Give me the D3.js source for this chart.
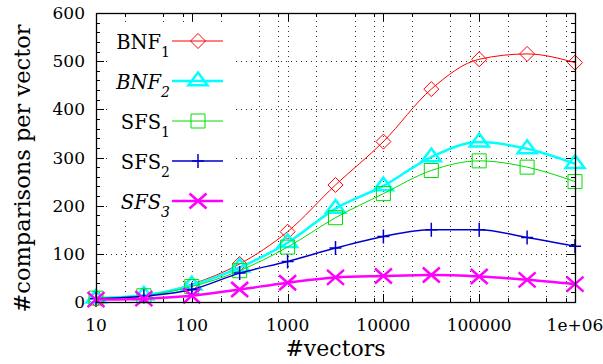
<!DOCTYPE html>
<html>
<head>
<meta charset="utf-8">
<script src="https://cdn.jsdelivr.net/npm/d3@7"></script>
<style>
  body { margin: 0; background: #fff; }
  svg { display: block; }
</style>
</head>
<body>
<div id="chart"></div>
<script>
const vectors = [10, 31.6, 100, 316, 1000, 3162, 10000, 31623, 100000, 316228, 1000000];
const bnf1 = [5, 13, 37, 79, 146, 243, 333, 442, 504, 515, 497];
const bnf2 = [8, 14, 35, 72, 123, 194, 241, 301, 332, 318, 287];
const sfs1 = [8, 13, 32, 65, 114, 175, 225, 273, 293, 280, 250];
const sfs2 = [7, 12, 26, 60, 84, 112, 136, 150, 150, 134, 116];
const sfs3 = [5, 7, 13, 26, 40, 51, 54, 56, 53, 46, 37];
const xTicks = [10, 100, 1000, 10000, 100000, 1000000];
const xTickLabels = ["10", "100", "1000", "10000", "100000", "1e+06"];
const yTicks = [0, 100, 200, 300, 400, 500, 600];

const width = 603, height = 364;
const margin = {top: 13, right: 28, bottom: 62, left: 96};
const font = "DejaVu Serif";

const series = [
  {name: "BNF", sub: "1", italic: false, values: bnf1, color: "#ff0000", lw: 1, marker: "diamond"},
  {name: "BNF", sub: "2", italic: true, values: bnf2, color: "#00ffff", lw: 2.5, marker: "triangle"},
  {name: "SFS", sub: "1", italic: false, values: sfs1, color: "#00dd00", lw: 1, marker: "square"},
  {name: "SFS", sub: "2", italic: false, values: sfs2, color: "#0000cc", lw: 1.5, marker: "plus"},
  {name: "SFS", sub: "3", italic: true, values: sfs3, color: "#ff00ff", lw: 2.5, marker: "cross"}
];

const markerPaths = {
  diamond: "M0,-7.5L7.5,0L0,7.5L-7.5,0Z",
  triangle: "M0,-8.5L9.5,4.3L-9.5,4.3Z",
  square: "M-7,-7H7V7H-7Z",
  plus: "M-6,0H6M0,-7V7",
  cross: "M-8.5,-7.5L8.5,7.5M-8.5,7.5L8.5,-7.5"
};
const markerWidth = {diamond: 1, triangle: 2.5, square: 1, plus: 1.5, cross: 2.5};

const svg = d3.select("#chart").append("svg")
  .attr("width", width)
  .attr("height", height)
  .style("font-family", font);

const x = d3.scaleLog().domain([10, 1e6]).range([margin.left, width - margin.right]);
const y = d3.scaleLinear().domain([0, 600]).range([height - margin.bottom, margin.top]);

const x0 = margin.left, x1 = width - margin.right;
const y0 = height - margin.bottom, y1 = margin.top;

// minor x positions (2, 5, 8 per decade)
const xMinor = [];
xTicks.slice(0, -1).forEach(d => [2, 5, 8].forEach(m => xMinor.push(d * m)));

// dotted grid
const grid = svg.append("g").attr("stroke", "#000").attr("stroke-width", 1)
  .attr("stroke-dasharray", "1,4").attr("opacity", 0.8);
grid.selectAll("line.h")
  .data(yTicks.slice(1, -1))
  .join("line")
    .attr("class", "h")
    .attr("x1", x0).attr("x2", x1)
    .attr("y1", d => Math.round(y(d)) + 0.5).attr("y2", d => Math.round(y(d)) + 0.5);
grid.selectAll("line.v")
  .data(xTicks.slice(1, -1).concat(xMinor))
  .join("line")
    .attr("class", "v")
    .attr("y1", y0).attr("y2", y1)
    .attr("x1", d => Math.round(x(d)) + 0.5).attr("x2", d => Math.round(x(d)) + 0.5);

// ticks on all four sides, pointing inward
const ticks = svg.append("g").attr("stroke", "#000").attr("stroke-width", 1);
xTicks.forEach(d => {
  const px = Math.round(x(d)) + 0.5;
  ticks.append("line").attr("x1", px).attr("x2", px).attr("y1", y0).attr("y2", y0 - 8);
  ticks.append("line").attr("x1", px).attr("x2", px).attr("y1", y1).attr("y2", y1 + 8);
});
xMinor.forEach(d => {
  const px = Math.round(x(d)) + 0.5;
  ticks.append("line").attr("x1", px).attr("x2", px).attr("y1", y0).attr("y2", y0 - 4);
  ticks.append("line").attr("x1", px).attr("x2", px).attr("y1", y1).attr("y2", y1 + 4);
});
yTicks.forEach(d => {
  const py = Math.round(y(d)) + 0.5;
  ticks.append("line").attr("x1", x0).attr("x2", x0 + 8).attr("y1", py).attr("y2", py);
  ticks.append("line").attr("x1", x1).attr("x2", x1 - 8).attr("y1", py).attr("y2", py);
});
d3.range(0, 600, 20).filter(d => d % 100 !== 0).forEach(d => {
  const py = Math.round(y(d)) + 0.5;
  ticks.append("line").attr("x1", x0).attr("x2", x0 + 4).attr("y1", py).attr("y2", py);
  ticks.append("line").attr("x1", x1).attr("x2", x1 - 4).attr("y1", py).attr("y2", py);
});

// tick labels
svg.append("g").selectAll("text")
  .data(xTicks)
  .join("text")
    .attr("x", d => x(d))
    .attr("y", y0 + 29)
    .attr("text-anchor", "middle")
    .style("font-size", "17px")
    .text((d, i) => xTickLabels[i]);
svg.append("g").selectAll("text")
  .data(yTicks)
  .join("text")
    .attr("x", x0 - 11)
    .attr("y", d => y(d) + 6)
    .attr("text-anchor", "end")
    .style("font-size", "17px")
    .text(d => d);

// axis titles
svg.append("text")
  .attr("x", (x0 + x1) / 2)
  .attr("y", 356)
  .attr("text-anchor", "middle")
  .style("font-size", "22px")
  .text("#vectors");
svg.append("text")
  .attr("transform", `translate(30,${(y0 + y1) / 2 + 11}) rotate(-90)`)
  .attr("text-anchor", "middle")
  .style("font-size", "22.5px")
  .text("#comparisons per vector");

// opaque key background
svg.append("rect")
  .attr("x", 110).attr("y", 22)
  .attr("width", 126).attr("height", 197)
  .attr("fill", "#fff");

// lines and points
const line = d3.line()
  .x((d, i) => x(vectors[i]))
  .y(d => y(d))
  .curve(d3.curveMonotoneX);

series.forEach(s => {
  const g = svg.append("g");
  g.append("path")
    .attr("d", line(s.values))
    .attr("fill", "none")
    .attr("stroke", s.color)
    .attr("stroke-width", s.lw);
  g.selectAll("path.pt")
    .data(s.values)
    .join("path")
      .attr("class", "pt")
      .attr("transform", (d, i) => `translate(${x(vectors[i])},${y(d)})`)
      .attr("d", markerPaths[s.marker])
      .attr("fill", "none")
      .attr("stroke", s.color)
      .attr("stroke-width", markerWidth[s.marker]);
});

// border
svg.append("rect")
  .attr("x", x0 + 0.5).attr("y", y1 + 0.5)
  .attr("width", x1 - x0).attr("height", y0 - y1)
  .attr("fill", "none")
  .attr("stroke", "#000")
  .attr("stroke-width", 1.3);

// legend
const legend = svg.append("g");
series.forEach((s, i) => {
  const ly = 41 + i * 40;
  const t = legend.append("text")
    .attr("x", 170)
    .attr("y", ly + 8)
    .attr("text-anchor", "end")
    .style("font-size", "19.5px")
    .style("font-style", s.italic ? "italic" : "normal");
  t.append("tspan").text(s.name);
  t.append("tspan").attr("dy", 8).style("font-size", "14px").text(s.sub);
  legend.append("line")
    .attr("x1", 172).attr("x2", 223)
    .attr("y1", ly).attr("y2", ly)
    .attr("stroke", s.color)
    .attr("stroke-width", s.lw);
  legend.append("path")
    .attr("transform", `translate(198,${ly})`)
    .attr("d", markerPaths[s.marker])
    .attr("fill", "none")
    .attr("stroke", s.color)
    .attr("stroke-width", markerWidth[s.marker]);
});
</script>
</body>
</html>
